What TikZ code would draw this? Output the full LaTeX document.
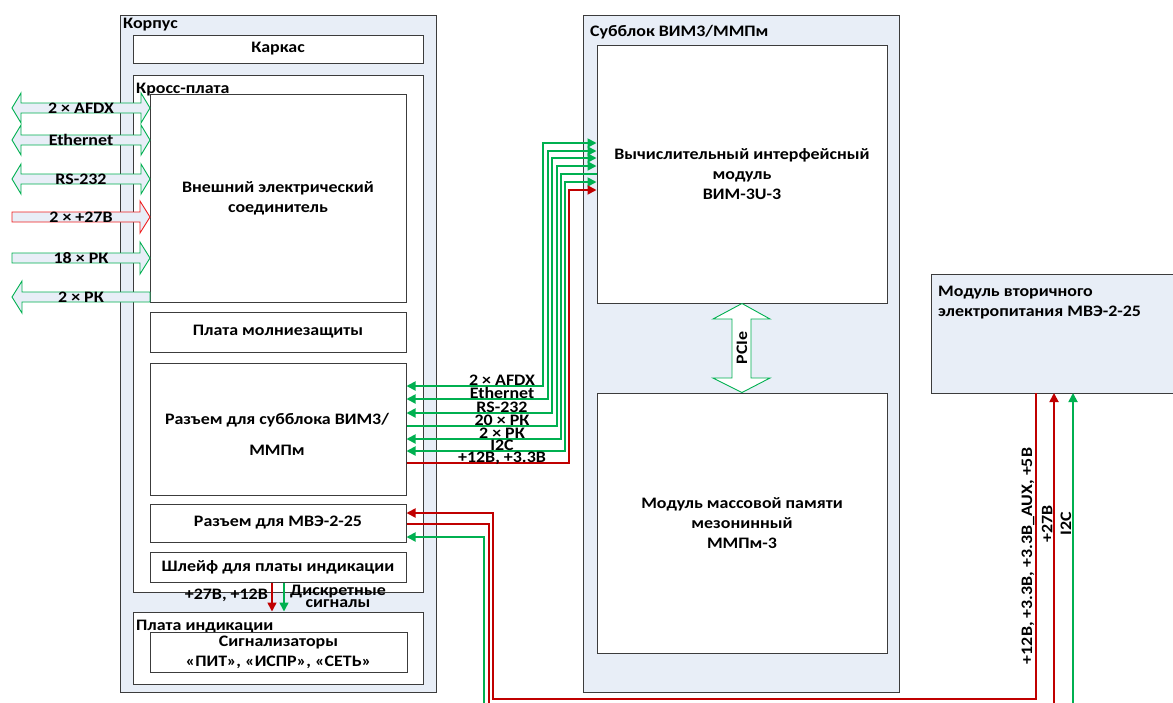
\documentclass[tikz,border=0pt]{standalone}
\usepackage{fontspec}
\setmainfont{Carlito}[FakeStretch=1.12]
\usetikzlibrary{arrows.meta}
\definecolor{bfill}{RGB}{232,238,247}
\definecolor{gr}{RGB}{0,176,80}
\definecolor{rd}{RGB}{192,0,0}
\definecolor{rda}{RGB}{240,30,30}
\definecolor{brd}{RGB}{60,60,60}
\newcommand\bx[7][box]{\node[#1, minimum width=#5-#3, minimum height=#6-#4] (#2) at ({(#3+#5)/2},{(#4+#6)/2}) {#7};}
\newcommand\dblarr[4]{%
  \draw[larr, draw=#2] (12,#1) -- (21,#1-15) -- (21,#1-5) -- (141,#1-5) -- (141,#1-15) -- (150,#1) -- (141,#1+15) -- (141,#1+5) -- (21,#1+5) -- (21,#1+15) -- cycle;
  \node[anchor=base] (#4) at (81,#1+5) {#3};}
\newcommand\rarr[4]{%
  \draw[larr, draw=#2] (12,#1-5) -- (140,#1-5) -- (140,#1-16) -- (150,#1) -- (140,#1+16) -- (140,#1+5) -- (12,#1+5) -- cycle;
  \node[anchor=base] (#4) at (81,#1+5) {#3};}
\newcommand\larr[4]{%
  \draw[larr, draw=#2] (150,#1-5) -- (22,#1-5) -- (22,#1-16) -- (12,#1) -- (22,#1+16) -- (22,#1+5) -- (150,#1+5) -- cycle;
  \node[anchor=base] (#4) at (81,#1+5) {#3};}
\begin{document}
\begin{tikzpicture}[x=1pt,y=-1pt,
  font=\fontsize{16}{20}\selectfont\bfseries,
  cont/.style={draw=brd, fill=bfill, line width=1pt, inner sep=0pt},
  box/.style={draw=brd, fill=white, line width=1pt, inner sep=0pt, align=center},
  larr/.style={fill=bfill, line width=0.9pt},
  conn/.style={line width=1.8pt},
  gline/.style={conn, draw=gr},
  rline/.style={conn, draw=rd},
  tp/.tip={Triangle[length=9pt,width=9pt]},
  lbl/.style={inner sep=0pt},
]
\useasboundingbox (0,0) rectangle (1173,702);
\clip (0,0) rectangle (1173,702);
% containers
\bx[cont]{korpus}{120}{15}{436}{692}{}
\node[lbl, anchor=base west] (korpusL) at (123,28) {Корпус};
\bx{karkas}{133}{35}{423}{63}{Каркас}
\bx{kross}{133}{75}{423}{592}{}
\node[lbl, anchor=base west] (krossL) at (136,93) {Кросс-плата};
\bx{vnesh}{150}{94}{406}{302}{Внешний электрический\\соединитель}
\bx{molnia}{150}{312}{406}{352}{Плата молниезащиты}
\bx{rz}{150}{363}{406}{495}{}
\node[lbl, align=center] (rzL) at (277,434) {Разъем для субблока ВИМ3/\\[11pt]ММПм};
\bx{rzm}{150}{504}{406}{542}{Разъем для МВЭ-2-25}
\bx{shl}{150}{552}{406}{582}{Шлейф для платы индикации}
\bx{pi}{133}{612}{423}{684}{}
\node[lbl, anchor=base west] (piL) at (136,630) {Плата индикации};
\bx{sig}{150}{632}{407}{672}{Сигнализаторы\\«ПИТ», «ИСПР», «СЕТЬ»}

\bx[cont]{sub}{583}{15}{899}{692}{}
\node[lbl, anchor=base west] (subL) at (590,36) {Субблок ВИМ3/ММПм};
\bx{vim}{597}{45}{887}{303}{Вычислительный интерфейсный\\модуль\\ВИМ-3U-3}
\bx{mmp}{597}{393}{887}{653}{Модуль массовой памяти\\мезонинный\\ММПм-3}

\bx[cont]{mve}{931}{274}{1185}{393}{}
\node[lbl, anchor=base west, align=left] (mveL) at (938,316) {Модуль вторичного\\электропитания МВЭ-2-25};

% left arrows
\dblarr{108}{gr}{2 × AFDX}{a1}
\dblarr{140}{gr}{Ethernet}{a2}
\dblarr{179}{gr}{RS-232}{a3}
\rarr{217}{rda}{2 × +27В}{a4}
\rarr{258}{gr}{18 × РК}{a5}
\larr{297}{gr}{2 × РК}{a6}

% PCIe
\draw[draw=gr, fill=white, line width=0.9pt] (vim.south) -- (770,319) -- (751,319) -- (751,378) -- (770,378) -- (mmp.north) -- (713,378) -- (732,378) -- (732,319) -- (713,319) -- cycle;
\node[lbl, rotate=90] (pcie) at (742,348) {PCIe};

% bundle
\draw[gline, tp-tp] (rz.east |- 0,386) -| (543,143) -- (vim.west |- 0,143);
\draw[gline, tp-tp] (rz.east |- 0,399) -| (548,151) -- (vim.west |- 0,151);
\draw[gline, tp-tp] (rz.east |- 0,413) -| (552,158) -- (vim.west |- 0,158);
\draw[gline, -tp] (rz.east |- 0,426) -| (557,166) -- (vim.west |- 0,166);
\draw[gline, tp-] (rz.east |- 0,439) -| (561,174) -- (vim.west |- 0,174);
\draw[gline, tp-tp] (rz.east |- 0,451) -| (565,182) -- (vim.west |- 0,182);
\draw[rline, -tp] (rz.east |- 0,463) -| (569,190) -- (vim.west |- 0,190);
\node[lbl, anchor=base] (b1) at (502,385) {2 × AFDX};
\node[lbl, anchor=base] (b2) at (502,398) {Ethernet};
\node[lbl, anchor=base] (b3) at (502,412) {RS-232};
\node[lbl, anchor=base] (b4) at (502,425) {20 × РК};
\node[lbl, anchor=base] (b5) at (502,438) {2 × РК};
\node[lbl, anchor=base] (b6) at (502,450) {I2C};
\node[lbl, anchor=base] (b7) at (502,462) {+12В, +3.3В};

% power module connections
\draw[rline, tp-] (rzm.east |- 0,513) -| (493,699) -| (1036,393);
\draw[rline, -tp] (rzm.east |- 0,524) -| (489,720) -| (1054,393);
\draw[gline, tp-tp] (rzm.east |- 0,537) -| (484,725) -| (1073,393);
\node[lbl, rotate=90] (p1) at (1028,556) {+12В, +3.3В, +3.3В\_AUX, +5В};
\node[lbl, rotate=90] (p2) at (1047,524) {+27В};
\node[lbl, rotate=90] (p3) at (1066,524) {I2C};

% indication
\draw[rline, line width=1.6pt, -tp] (shl.south -| 272,0) -- (pi.north -| 272,0);
\draw[gline, line width=1.6pt, -tp] (shl.south -| 284,0) -- (pi.north -| 284,0);
\node[lbl, anchor=base east] (ind1) at (268,599) {+27В, +12В};
\node[lbl, align=center] (ind2) at (338,596) {Дискретные\\[-8pt]сигналы};
\end{tikzpicture}
\end{document}
